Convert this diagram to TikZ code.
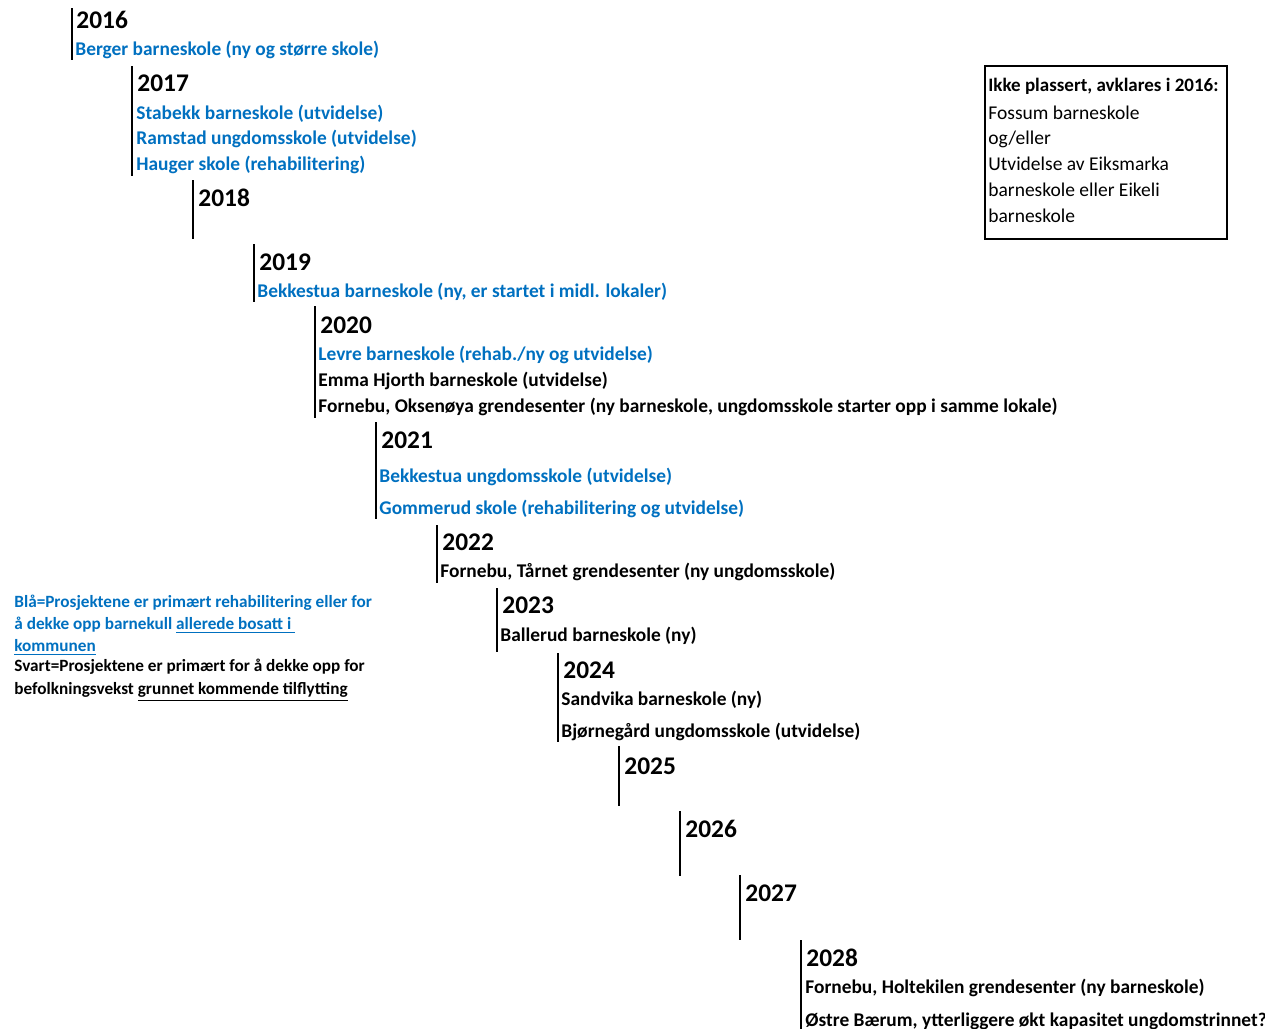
\documentclass[tikz,border=0pt]{standalone}
\usepackage{fontspec}
\setmainfont{Carlito}
\usepackage{xcolor}
\definecolor{planblue}{RGB}{0,112,192}

\begin{document}
\begin{tikzpicture}[x=0.5pt,y=-0.5pt,
	year/.style={anchor=west, inner sep=0pt, yshift=-1pt, text height=0.63em, text depth=0pt, font=\bfseries\fontsize{12.7}{14}\selectfont},
	item/.style={anchor=west, inner sep=0pt, text height=0.63em, text depth=0pt, font=\bfseries\fontsize{9.7}{11}\selectfont},
	blueitem/.style={item, text=planblue},
	boxitem/.style={item, font=\fontsize{9.75}{11}\selectfont},
	legend/.style={item, font=\bfseries\fontsize{8.6}{10}\selectfont},
	tick/.style={line width=1pt}]
\useasboundingbox (0,0) rectangle (1265,1029);

\draw[tick] (72,8) -- (72,60);
\draw[tick] (132,66) -- (132,176);
\draw[tick] (193,180) -- (193,239);
\draw[tick] (254,244) -- (254,302);
\draw[tick] (315,306) -- (315,418);
\draw[tick] (376,422) -- (376,519);
\draw[tick] (437,525) -- (437,583);
\draw[tick] (497,588) -- (497,652);
\draw[tick] (558,653) -- (558,742);
\draw[tick] (619,746) -- (619,806);
\draw[tick] (680,811) -- (680,876);
\draw[tick] (740,875) -- (740,940);
\draw[tick] (801,940) -- (801,1029);

\node[year] (y2016) at (76,20) {2016};
\node[blueitem] (berger) at (75,49) {Berger barneskole (ny og større skole)};

\node[year] (y2017) at (137,83) {2017};
\node[blueitem] (stabekk) at (136,113) {Stabekk barneskole (utvidelse)};
\node[blueitem] (ramstad) at (136,138) {Ramstad ungdomsskole (utvidelse)};
\node[blueitem] (hauger) at (136,164) {Hauger skole (rehabilitering)};

\node[year] (y2018) at (198,198) {2018};

\node[year] (y2019) at (259,262) {2019};
\node[blueitem] (bekkbarn) at (257,291) {Bekkestua barneskole (ny, er startet i midl. lokaler)};

\node[year] (y2020) at (320,325) {2020};
\node[blueitem] (levre) at (318,354) {Levre barneskole (rehab./ny og utvidelse)};
\node[item] (emma) at (318,380) {Emma Hjorth barneskole (utvidelse)};
\node[item] (oksenoya) at (318,406) {Fornebu, Oksenøya grendesenter (ny barneskole, ungdomsskole starter opp i samme lokale)};

\node[year] (y2021) at (381,440) {2021};
\node[blueitem] (bekkung) at (379,476) {Bekkestua ungdomsskole (utvidelse)};
\node[blueitem] (gommerud) at (379,508) {Gommerud skole (rehabilitering og utvidelse)};

\node[year] (y2022) at (442,542) {2022};
\node[item] (taarnet) at (440,571) {Fornebu, Tårnet grendesenter (ny ungdomsskole)};

\node[year] (y2023) at (502,605) {2023};
\node[item] (ballerud) at (500,635) {Ballerud barneskole (ny)};

\node[year] (y2024) at (563,670) {2024};
\node[item] (sandvika) at (561,699) {Sandvika barneskole (ny)};
\node[item] (bjorne) at (561,731) {Bjørnegård ungdomsskole (utvidelse)};

\node[year] (y2025) at (624,766) {2025};
\node[year] (y2026) at (685,829) {2026};
\node[year] (y2027) at (745,893) {2027};

\node[year] (y2028) at (806,958) {2028};
\node[item] (holtekilen) at (805,987) {Fornebu, Holtekilen grendesenter (ny barneskole)};
\node[item] (ostre) at (805,1020) {Østre Bærum, ytterliggere økt kapasitet ungdomstrinnet?};

% box with projects not yet placed
\draw[line width=1pt] (985,66) rectangle (1227,239);
\node[item, font=\bfseries\fontsize{9.5}{11}\selectfont] (ikke) at (988,85) {Ikke plassert, avklares i 2016:};
\node[boxitem] (fossum) at (988,113) {Fossum barneskole};
\node[boxitem] (ogeller) at (988,138) {og/eller};
\node[boxitem] (eiks) at (988,164) {Utvidelse av Eiksmarka};
\node[boxitem] (eikeli) at (988,190) {barneskole eller Eikeli};
\node[boxitem] (barn) at (988,216) {barneskole};

% legend
\node[legend, text=planblue] (blaa1) at (14,601) {Blå=Prosjektene er primært rehabilitering eller for};
\node[legend, text=planblue] (blaa2) at (14,623) {å dekke opp barnekull \underline{allerede bosatt i }};
\node[legend, text=planblue] (blaa3) at (14,645) {\underline{kommunen}};
\node[legend] (svart1) at (14,665) {Svart=Prosjektene er primært for å dekke opp for};
\node[legend] (svart2) at (14,688) {befolkningsvekst \underline{grunnet kommende tilflytting}};

\end{tikzpicture}
\end{document}
